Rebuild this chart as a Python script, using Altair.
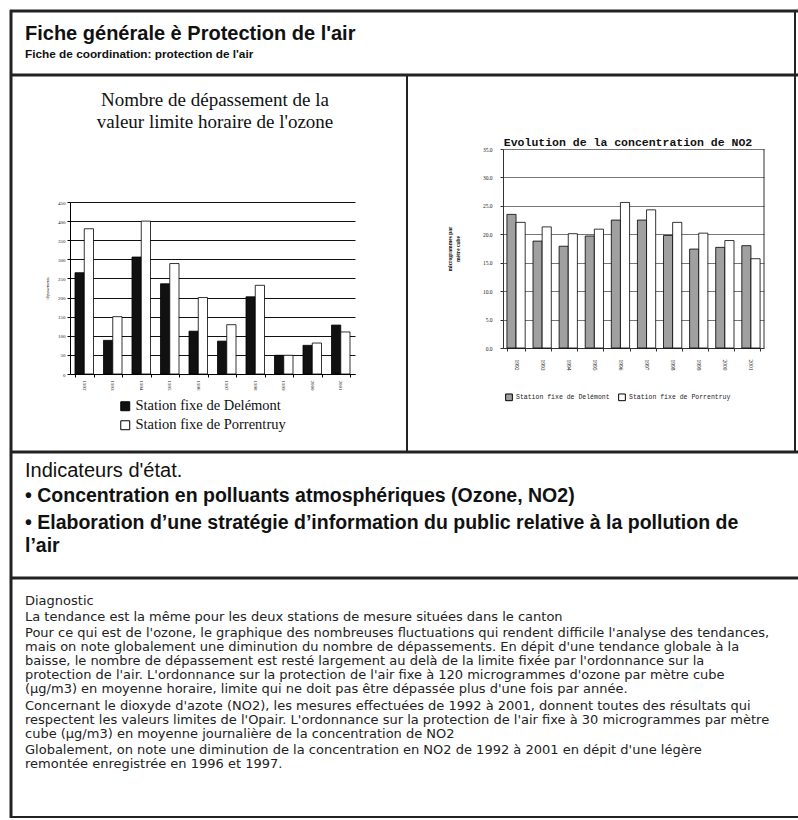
import altair as alt
import pandas as pd

# ---------------- data ----------------
years = ["1992", "1993", "1994", "1995", "1996", "1997", "1998", "1999", "2000", "2001"]
stations = ["Station fixe de Delémont", "Station fixe de Porrentruy"]
ozone_delemont = [265, 88, 306, 236, 112, 86, 202, 49, 75, 128]
ozone_porrentruy = [380, 150, 400, 289, 200, 129, 232, 49, 81, 110]
no2_delemont = [23.5, 18.8, 17.9, 19.7, 22.5, 22.5, 19.8, 17.4, 17.7, 18.0]
no2_porrentruy = [22.1, 21.3, 20.1, 20.9, 25.6, 24.3, 22.1, 20.2, 18.9, 15.7]
ozone_ticks = [0, 50, 100, 150, 200, 250, 300, 350, 400, 450]
no2_ticks = [0, 5, 10, 15, 20, 25, 30, 35]

header_title = "Fiche générale è Protection de l'air"
header_sub = "Fiche de coordination: protection de l'air"
ozone_title = ["Nombre de dépassement de la", "valeur limite horaire de l'ozone"]
no2_title = "Evolution de la concentration de NO2"
no2_ytitle = ["microgrammes par", "mètre cube"]
ozone_ytitle = "dépassements"
indic_title = "Indicateurs d'état."
indic_b1 = "•  Concentration en polluants atmosphériques (Ozone, NO2)"
indic_b2 = ["•  Elaboration d’une stratégie d’information du public relative à la pollution de",
            "    l’air"]
diag_head = "Diagnostic"
diag_p1 = ["La tendance est la même pour les deux stations de mesure situées dans le canton"]
diag_p2 = [
    "Pour ce qui est de l'ozone, le graphique des nombreuses fluctuations qui rendent difficile l'analyse des tendances,",
    "mais on note globalement une diminution du nombre de dépassements. En dépit d'une tendance globale à la",
    "baisse, le nombre de dépassement est resté largement au delà de la limite fixée par l'ordonnance sur la",
    "protection de l'air. L'ordonnance sur la protection de l'air fixe à 120 microgrammes d'ozone par mètre cube",
    "(µg/m3) en moyenne horaire, limite qui ne doit pas être dépassée plus d'une fois par année.",
]
diag_p3 = [
    "Concernant le dioxyde d'azote (NO2), les mesures effectuées de 1992 à 2001, donnent toutes des résultats qui",
    "respectent les valeurs limites de l'Opair. L'ordonnance sur la protection de l'air fixe à 30 microgrammes par mètre",
    "cube (µg/m3) en moyenne journalière de la concentration de NO2",
]
diag_p4 = [
    "Globalement, on note une diminution de la concentration en NO2  de 1992 à 2001 en dépit d'une légère",
    "remontée enregistrée en 1996 et 1997.",
]

W, H = 798, 820
SANS = "Liberation Sans"
WIDE = "DejaVu Sans"
SERIF = "Liberation Serif"
MONO = "Liberation Mono"

one = alt.Data(values=[{}])


def rule(x, x2, y, y2, w=2, color="#222"):
    return alt.Chart(one).mark_rule(color=color, strokeWidth=w).encode(
        x=alt.value(x), x2=alt.value(x2), y=alt.value(y), y2=alt.value(y2)
    )


def txt(text, x, y, size, weight="normal", font=SANS, align="left", lh=None, baseline="top", color="#111"):
    kw = dict(align=align, baseline=baseline, fontSize=size, fontWeight=weight, font=font, color=color)
    if lh is not None:
        kw["lineHeight"] = lh
    return alt.Chart(one).mark_text(**kw).encode(
        x=alt.value(x), y=alt.value(y), text=alt.value(text)
    )


# ---------------- frame ----------------
frame = [
    rule(10, 798, 11, 11, 3),      # top
    rule(11, 11, 10, 818, 3),      # left
    rule(795, 795, 10, 452, 2),    # right
    rule(10, 798, 75, 75, 3),
    rule(407, 407, 75, 452, 2),
    rule(10, 798, 452, 452, 3),
    rule(10, 798, 578, 578, 3),
    rule(10, 798, 817, 817, 2),
    rule(764, 764, 149, 348, 1, "#333"),   # right edge of NO2 plot frame
]

texts = [
    txt(header_title, 25, 24, 20, "bold"),
    txt(header_sub, 25, 49, 11.8, "bold"),
    txt(ozone_title, 215, 91, 19, font=SERIF, align="center", lh=22),
    txt(no2_title, 628, 137, 11.5, "bold", font=MONO, align="center"),
    txt(indic_title, 25, 461, 20),
    txt(indic_b1, 25, 487, 19.5, "bold"),
    txt(indic_b2, 25, 514, 19.5, "bold", lh=23),
    txt(diag_head, 25, 595, 13, font=WIDE, color="#222"),
    txt(diag_p1, 25, 611, 13, font=WIDE, lh=14, color="#222"),
    txt(diag_p2, 25, 627, 13, font=WIDE, lh=14, color="#222"),
    txt(diag_p3, 25, 700, 13, font=WIDE, lh=14, color="#222"),
    txt(diag_p4, 25, 744, 13, font=WIDE, lh=14, color="#222"),
]

# ---------------- ozone chart ----------------
oz = pd.DataFrame({
    "year": years * 2,
    "station": [stations[0]] * len(years) + [stations[1]] * len(years),
    "value": ozone_delemont + ozone_porrentruy,
})

ozone = alt.Chart(oz).mark_bar(stroke="black", strokeWidth=0.8).encode(
    x=alt.X("year:N", sort=years,
            scale=alt.Scale(range=[70, 355], paddingInner=0.35, paddingOuter=0.175),
            axis=alt.Axis(orient="bottom", offset=374 - H, title=None, labelAngle=90,
                          labelFontSize=5, labelFont=SERIF, labelColor="#222", domainColor="black",
                          tickColor="black", tickBand="extent", tickSize=3, labelPadding=3,
                          grid=False, labelBaseline="middle", labelAlign="left")),
    xOffset=alt.XOffset("station:N", sort=stations),
    y=alt.Y("value:Q",
            scale=alt.Scale(domain=[0, 450], range=[374, 202], nice=False, zero=True),
            axis=alt.Axis(orient="left", offset=-70, values=ozone_ticks, grid=True,
                          gridColor="#111", gridWidth=1, domainColor="black", tickColor="black",
                          tickSize=3, labelFontSize=5, labelFont=SERIF, labelColor="#222",
                          title=ozone_ytitle, titleFontSize=4, titleFont=SERIF,
                          titleFontWeight="normal", titlePadding=8)),
    fill=alt.Fill("station:N", sort=stations,
                  scale=alt.Scale(domain=stations, range=["#111111", "white"]),
                  legend=alt.Legend(orient="none", legendX=118, legendY=399, title=None,
                                    labelFont=SERIF, labelFontSize=14.5, labelColor="#111",
                                    symbolType="square", symbolSize=80, symbolStrokeColor="black",
                                    symbolStrokeWidth=1, direction="vertical", rowPadding=4,
                                    labelOffset=3)),
)

# ---------------- NO2 chart ----------------
no2 = pd.DataFrame({
    "year": years * 2,
    "station": [stations[0]] * len(years) + [stations[1]] * len(years),
    "value": no2_delemont + no2_porrentruy,
})

no2_chart = alt.Chart(no2).mark_bar(stroke="black", strokeWidth=0.8).encode(
    x=alt.X("year:N", sort=years,
            scale=alt.Scale(range=[503, 764], paddingInner=0.3, paddingOuter=0.15),
            axis=alt.Axis(orient="bottom", offset=348 - H, title=None, labelAngle=90,
                          labelFontSize=5.5, labelFont=SERIF, labelColor="#222", domainColor="#333",
                          tickColor="#333", tickBand="extent", tickSize=3, labelPadding=8,
                          grid=False, labelBaseline="middle", labelAlign="left")),
    xOffset=alt.XOffset("station:N", sort=stations),
    y=alt.Y("value:Q",
            scale=alt.Scale(domain=[0, 35], range=[348, 149], nice=False, zero=True),
            axis=alt.Axis(orient="left", offset=-503, values=no2_ticks, format=".1f", grid=True,
                          gridColor="#777", gridWidth=1, domainColor="#333", tickColor="#333",
                          tickSize=3, labelFontSize=5.5, labelFont=SERIF, labelColor="#222",
                          labelPadding=8, title=no2_ytitle, titleFontSize=5.5, titleFont=SERIF,
                          titleFontWeight="bold", titlePadding=22)),
    fill=alt.Fill("station:N", sort=stations,
                  scale=alt.Scale(domain=stations, range=["#a0a0a0", "white"]),
                  legend=alt.Legend(orient="none", legendX=505, legendY=393, title=None,
                                    labelFont=MONO, labelFontSize=6.5, labelColor="#222",
                                    symbolType="square", symbolSize=45, symbolStrokeColor="black",
                                    symbolStrokeWidth=1, direction="horizontal", columnPadding=6,
                                    labelOffset=3)),
)

chart = alt.layer(*frame, *texts, ozone, no2_chart).resolve_scale(
    x="independent", y="independent", fill="independent", xOffset="independent"
).resolve_axis(x="independent", y="independent").resolve_legend(fill="independent").properties(
    width=W, height=H, padding=0, autosize=alt.AutoSizeParams(type="none"),
    background="white",
).configure_view(stroke=None)

chart.save("out.html", embed_options={"renderer": "svg", "actions": False})
